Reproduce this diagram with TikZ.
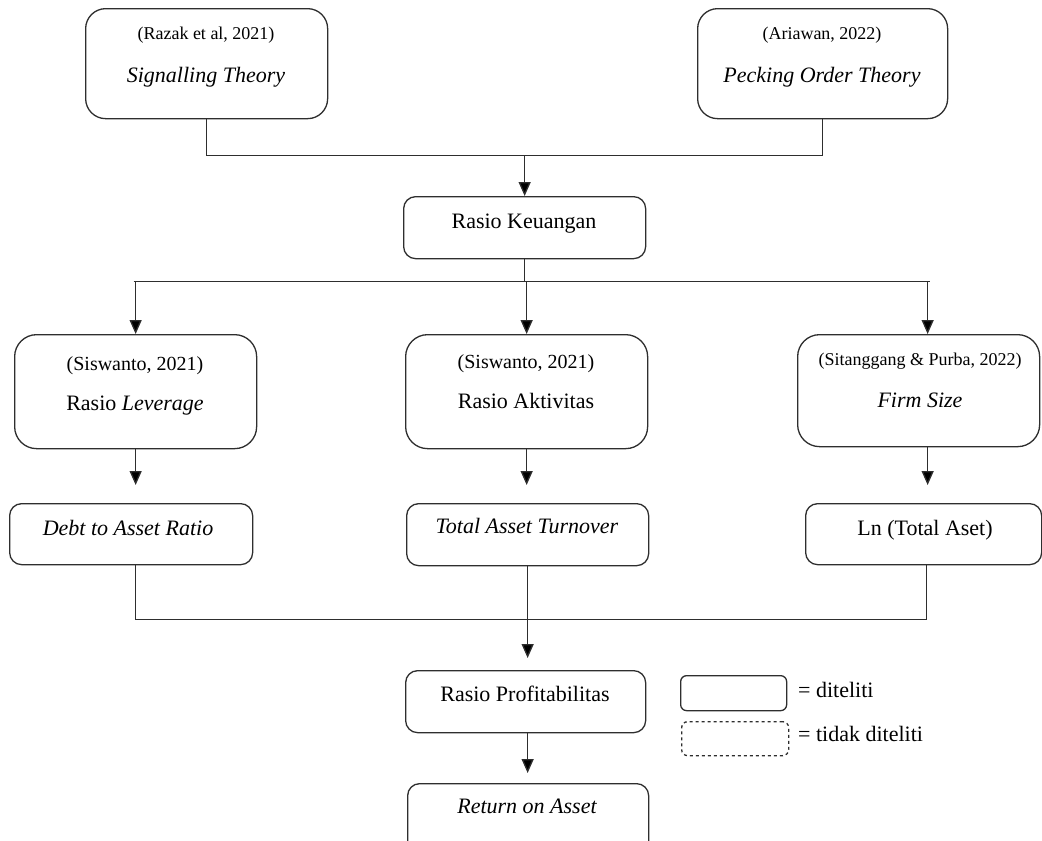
\documentclass[tikz,border=0pt]{standalone}
\usepackage{fontspec}
\setmainfont{Liberation Serif}
\usetikzlibrary{arrows.meta,calc}
\definecolor{linec}{HTML}{2E2E2E}
\tikzset{
  box/.style={draw=linec, line width=1.3pt, rounded corners=#1, inner sep=0pt, anchor=north west},
  box/.default=12pt,
  conn/.style={draw=linec, line width=1.3pt},
  arr/.style={conn, -{Triangle[width=12pt,length=14pt,fill=black]}},
  big/.style={font=\fontsize{22}{26}\selectfont, anchor=base, inner sep=0pt},
  cite/.style={font=\fontsize{18}{22}\selectfont, anchor=base, inner sep=0pt},
  citeb/.style={font=\fontsize{20}{24}\selectfont, anchor=base, inner sep=0pt},
}
\begin{document}
\begin{tikzpicture}[x=1pt,y=-1pt]
\clip (0,0) rectangle (1042,841);
\fill[white] (0,0) rectangle (1042,841);

% row 1
\node[box=20pt, minimum width=242pt, minimum height=110pt] (sig) at (85,8) {};
\node[cite] (sigA) at (206,39) {(Razak et al, 2021)};
\node[big] (sigB) at (206,82) {\itshape Signalling Theory};
\node[box=20pt, minimum width=250pt, minimum height=110pt] (pec) at (697,8) {};
\node[cite] (pecA) at (822,39) {(Ariawan, 2022)};
\node[big] (pecB) at (822,82) {\itshape Pecking Order Theory};

% keuangan
\node[box=12pt, minimum width=242pt, minimum height=62pt] (keu) at (403,196) {};
\node[big] (keuT) at (524,228) {Rasio Keuangan};

% row 2
\node[box=22pt, minimum width=242pt, minimum height=114pt] (lev) at (14,334) {};
\node[citeb] (levA) at (135,370) {(Siswanto, 2021)};
\node[big] (levB) at (135,410) {Rasio \textit{Leverage}};
\node[box=22pt, minimum width=242pt, minimum height=114pt] (akt) at (405,334) {};
\node[citeb] (aktA) at (526,368) {(Siswanto, 2021)};
\node[big] (aktB) at (526,408) {Rasio Aktivitas};
\node[box=22pt, minimum width=242pt, minimum height=112pt] (firm) at (797,334) {};
\node[cite] (firmA) at (920,365) {(Sitanggang \& Purba, 2022)};
\node[big] (firmB) at (920,407) {\itshape Firm Size};

% row 3
\node[box=12pt, minimum width=243pt, minimum height=61pt] (debt) at (9,503) {};
\node[big] (debtT) at (128,535) {\itshape Debt to Asset Ratio};
\node[box=12pt, minimum width=242pt, minimum height=62pt] (tat) at (406,503) {};
\node[big] (tatT) at (527,533) {\itshape Total Asset Turnover};
\node[box=12pt, minimum width=236pt, minimum height=61pt] (ln) at (805,503) {};
\node[big] (lnT) at (925,535) {Ln (Total Aset)};

% bottom
\node[box=12pt, minimum width=240pt, minimum height=62pt] (prof) at (405,670) {};
\node[big] (profT) at (525,701) {Rasio Profitabilitas};
\node[box=12pt, minimum width=241pt, minimum height=80pt] (roa) at (407,783) {};
\node[big] (roaT) at (527,813) {\itshape Return on Asset};

% legend
\node[box=6pt, minimum width=106pt, minimum height=35pt] (leg1) at (680,675) {};
\node[big, anchor=base west] (leg1T) at (798,697) {= diteliti};
\node[box=6pt, dashed, minimum width=107pt, minimum height=34pt] (leg2) at (681,721) {};
\node[big, anchor=base west] (leg2T) at (798,741) {= tidak diteliti};

% connectors
\draw[conn] (sig.south) -- ++(0,36) coordinate (j1a) -| (pec.south);
\draw[arr] (keu.north |- j1a) -- (keu.north);

\draw[conn] (keu.south) -- ++(0,22) coordinate (j2);
\draw[conn] ([xshift=-2pt]lev.north |- j2) -- ([xshift=11pt]firm.north |- j2);
\draw[arr] (lev.north |- j2) -- (lev.north);
\draw[arr] (akt.north |- j2) -- (akt.north);
\draw[arr] ([xshift=9pt]firm.north |- j2) -- ([xshift=9pt]firm.north);

\draw[arr, shorten >=18pt] (lev.south) -- (lev.south |- debt.north);
\draw[arr, shorten >=18pt] (akt.south) -- (akt.south |- tat.north);
\draw[arr, shorten >=18pt] ([xshift=9pt]firm.south) -- ([xshift=9pt]firm.south |- ln.north);

\draw[conn] ([xshift=4.5pt]debt.south) -- ++(0,54) coordinate (j3) -| ([xshift=3pt]ln.south);
\draw[arr, shorten >=12pt] (tat.south) -- (tat.south |- prof.north);
\draw[arr, shorten >=10pt] (prof.south -| tat.south) -- (roa.north -| tat.south);
\end{tikzpicture}
\end{document}
